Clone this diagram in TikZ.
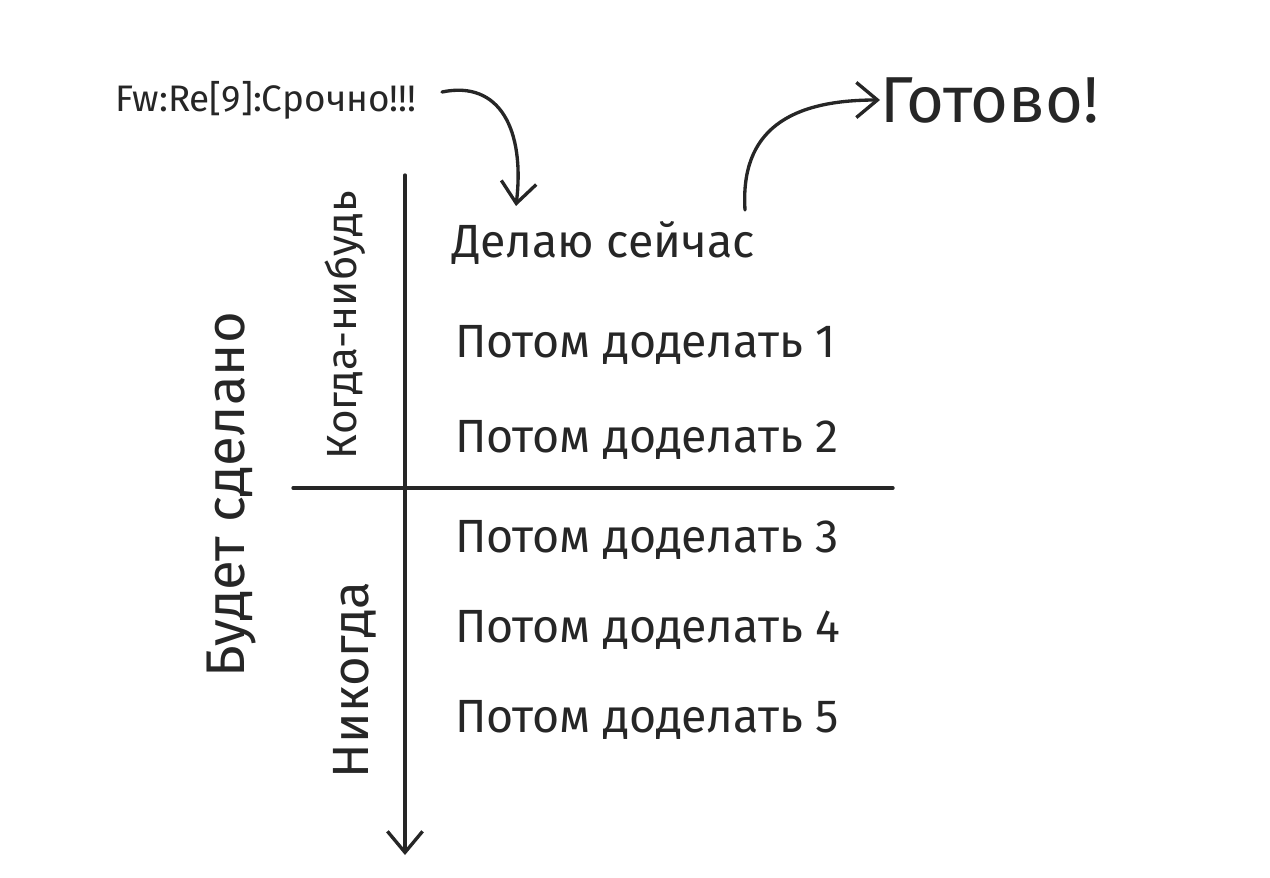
\documentclass[tikz,border=0pt]{standalone}
\usepackage{fontspec}
\setmainfont{Fira Sans}
\usetikzlibrary{arrows.meta}
\tikzset{
  pen/.style={line width=1.9pt, draw=black!85, line cap=round, line join=round},
  barb/.style={-{Straight Barb[length=12pt,width=20pt,line width=1.9pt]}},
  item/.style={anchor=west, inner sep=0pt, font=\fontsize{26.5}{31}\selectfont, text=black!85},
  side/.style={rotate=90, inner sep=0pt, text=black!85}
}
\begin{document}
\begin{tikzpicture}[x=0.02cm,y=-0.02cm]
\useasboundingbox (0,0) rectangle (1270,878);
% axes
\coordinate (vtop) at (405,175);
\coordinate (vbot) at (405,855);
\coordinate (hl) at (293,488);
\coordinate (hr) at (893,488);
\draw[pen,barb] (vtop) -- (vbot);
\draw[pen] (hl) -- (hr);
% items
\node[item] (now) at (452,243) {Делаю сейчас};
\node[item] (p1) at (455,345) {Потом доделать 1};
\node[item] (p2) at (455,440) {Потом доделать 2};
\node[item] (p3) at (455,540) {Потом доделать 3};
\node[item] (p4) at (455,630) {Потом доделать 4};
\node[item] (p5) at (455,720) {Потом доделать 5};
% side labels
\node[side, font=\fontsize{24}{28}\selectfont] (some) at (345,325) {Когда-нибудь};
\node[side, font=\fontsize{29}{34}\selectfont] (never) at (355,680) {Никогда};
\node[side, font=\fontsize{31}{36}\selectfont] (will) at (232,495) {Будет сделано};
% top labels
\node[anchor=west, inner sep=0pt, font=\fontsize{21}{25}\selectfont, text=black!85] (urgent) at (115,100) {Fw:Re[9]:Срочно!!!};
\node[anchor=west, inner sep=0pt, font=\fontsize{37}{44}\selectfont, text=black!85] (done) at (880,100) {Готово!};
% arrows
\coordinate (a1s) at (442,92);
\coordinate (a1e) at (516,206);
\draw[pen,barb] (a1s) .. controls (500,80) and (525,130) .. (a1e);
\coordinate (a2s) at (745,210);
\draw[pen,barb] (a2s) .. controls (740,130) and (790,100) .. (done.west);
\end{tikzpicture}
\end{document}
